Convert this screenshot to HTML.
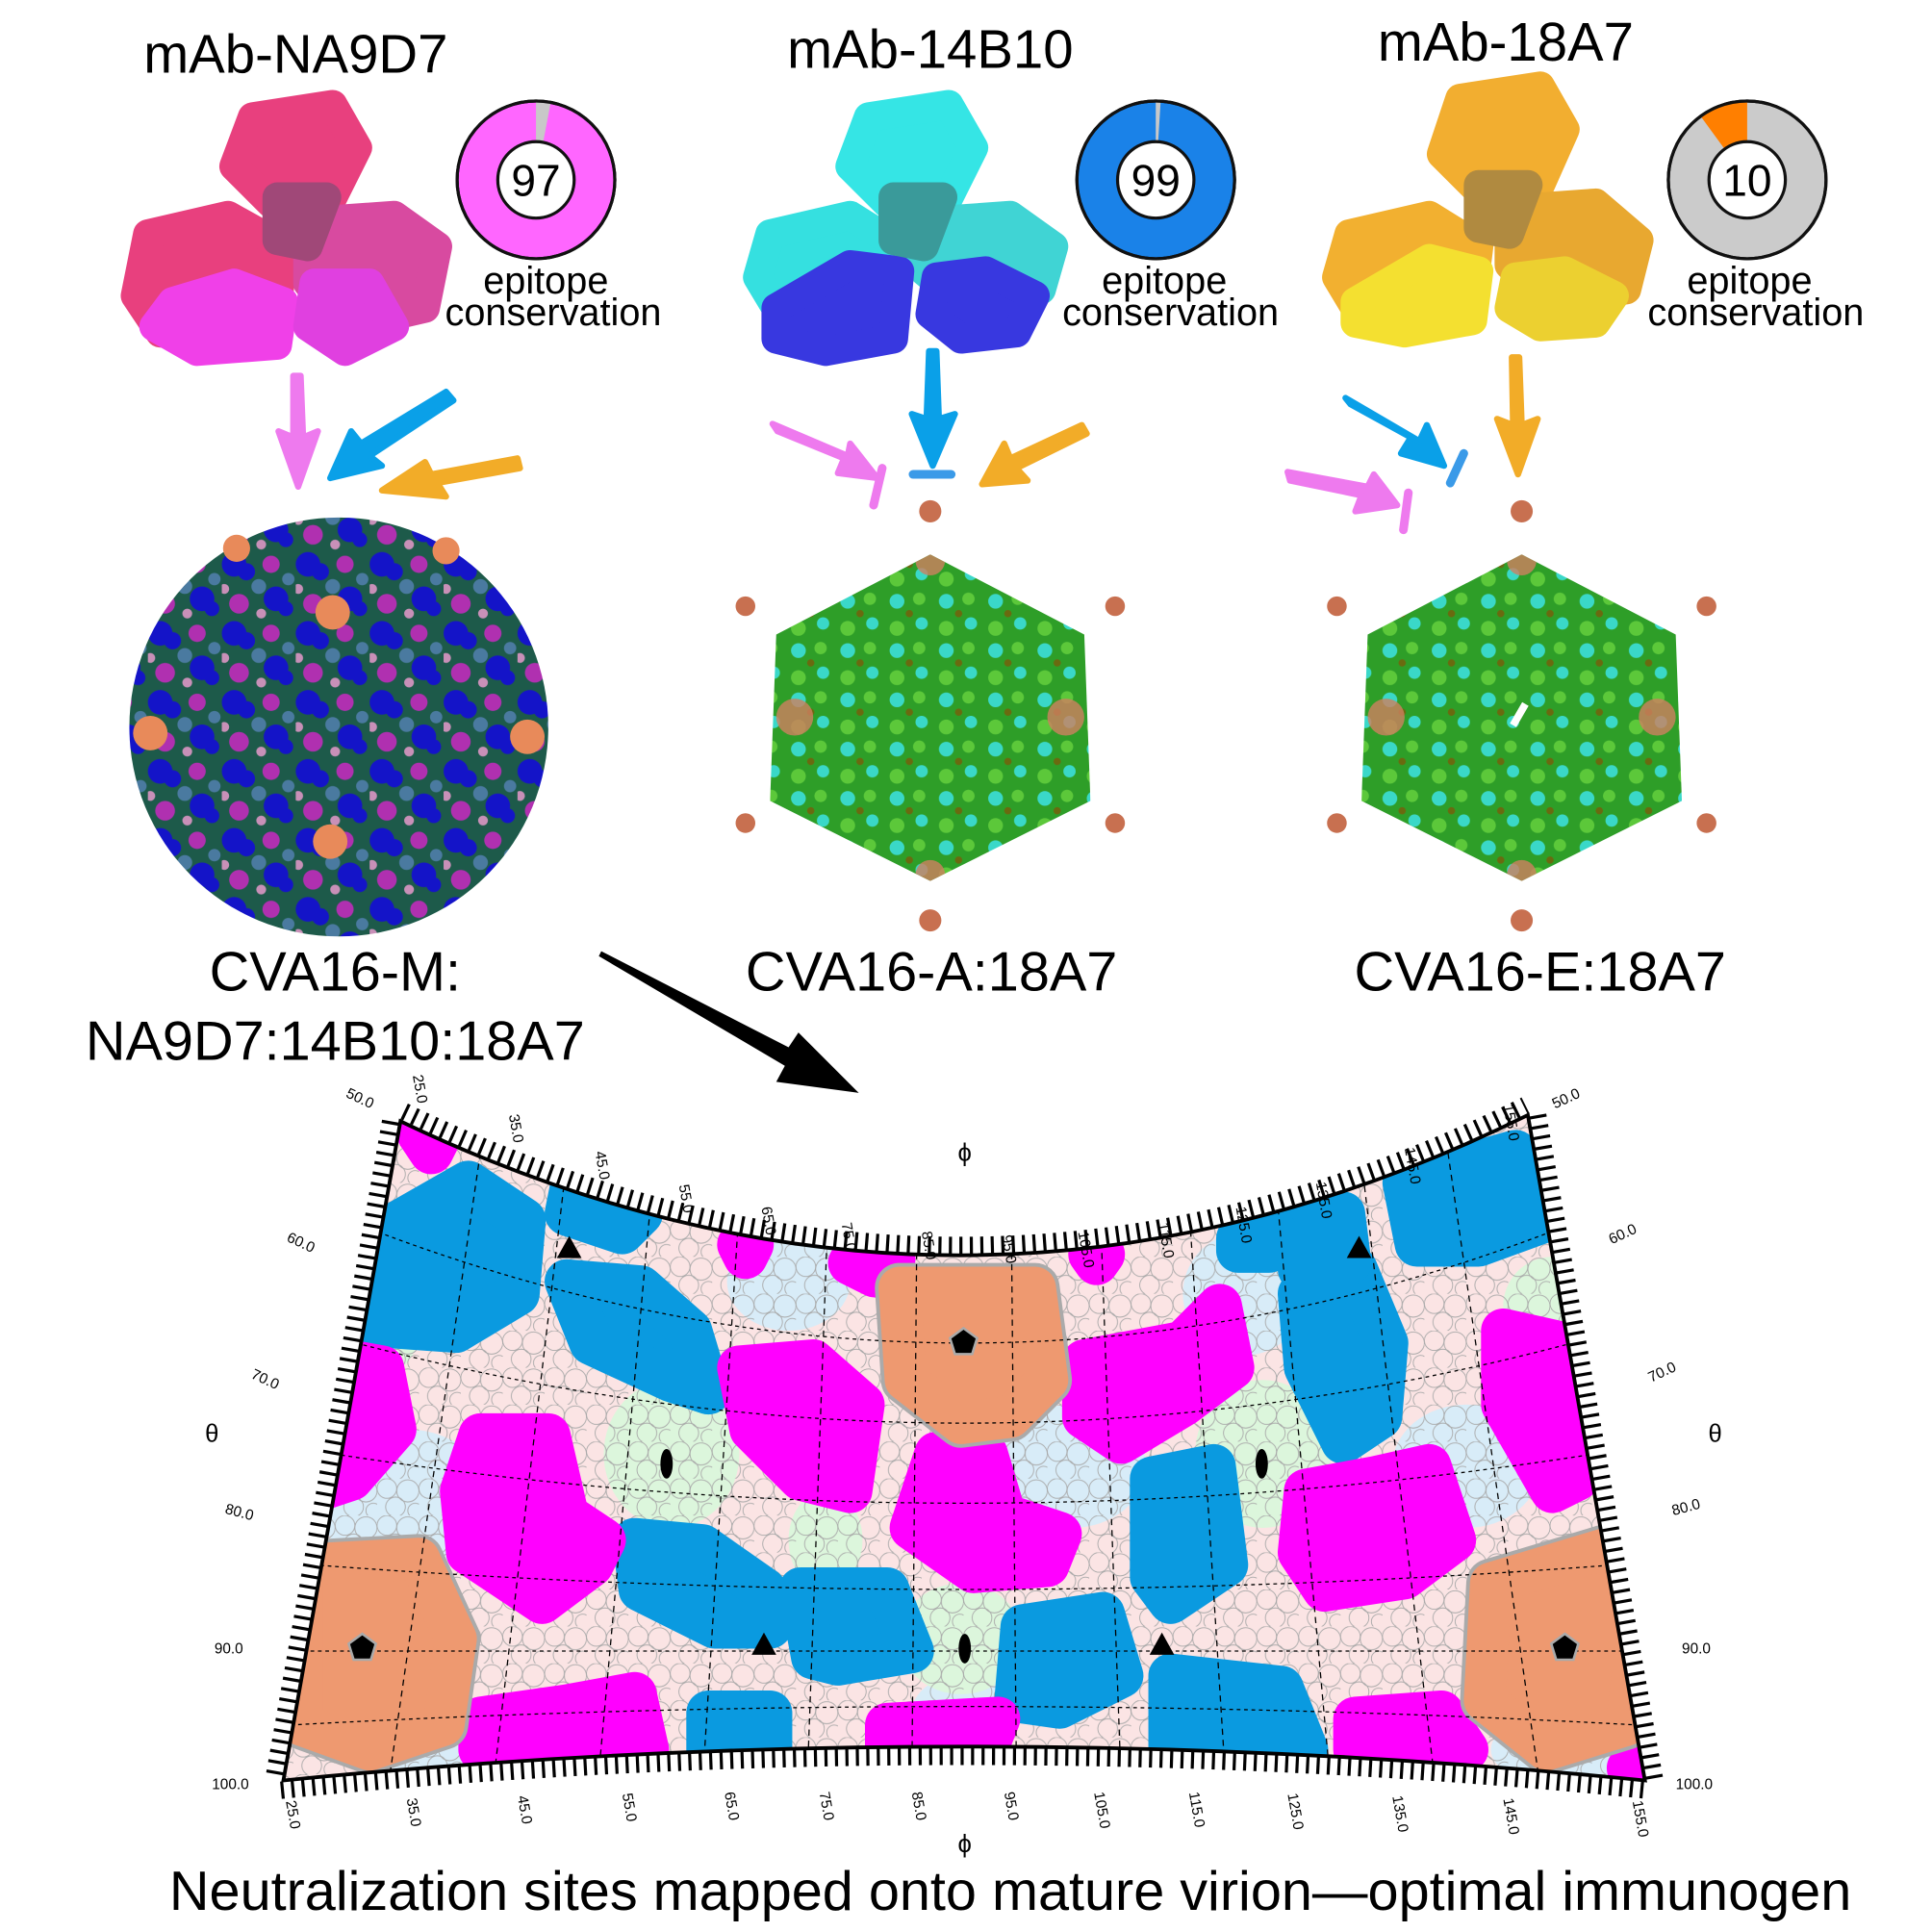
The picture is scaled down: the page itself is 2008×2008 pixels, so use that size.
<!DOCTYPE html>
<html><head><meta charset="utf-8"><style>
html,body{margin:0;padding:0;background:#fff}
svg{display:block}
text{font-family:"Liberation Sans",Arial,sans-serif}
.t{font-family:"Liberation Serif",serif;font-size:12px}
</style></head><body>
<svg width="2008" height="2008" viewBox="0 0 1568 1568" xmlns="http://www.w3.org/2000/svg">
<defs>
<clipPath id="mapclip"><path d="M325,910 Q785,1130 1240,905 L1335,1445 Q785,1390 230,1445 Z"/></clipPath>
<clipPath id="c2"><polygon points="755,450 880,515 885,650 755,715 625,650 630,515"/></clipPath>
<clipPath id="c3"><polygon points="1235,450 1360,515 1365,650 1235,715 1105,650 1110,515"/></clipPath>
<pattern id="cells" width="34" height="30" patternUnits="userSpaceOnUse">
<g fill="none" stroke="#a8a8a8" stroke-width="0.7">
<circle cx="8" cy="8" r="8"/><circle cx="25" cy="10" r="9"/><circle cx="15" cy="23" r="8"/><circle cx="31" cy="26" r="6"/>
</g></pattern>
<pattern id="mvir" width="60" height="56" patternUnits="userSpaceOnUse">
<rect width="60" height="56" fill="#1d5a4a"/>
<g fill="#1414c8"><circle cx="10" cy="10" r="10"/><circle cx="20" cy="16" r="7"/><circle cx="44" cy="38" r="10"/><circle cx="52" cy="46" r="6"/></g>
<g fill="#b030b0"><circle cx="40" cy="10" r="7"/><circle cx="14" cy="42" r="8"/></g>
<g fill="#4a7aa0"><circle cx="30" cy="28" r="6"/><circle cx="54" cy="22" r="5"/></g>
<g fill="#c890b8"><circle cx="2" cy="30" r="4"/><circle cx="32" cy="50" r="4"/></g>
</pattern>
<pattern id="gvir" width="40" height="40" patternUnits="userSpaceOnUse">
<rect width="40" height="40" fill="#2e9e28"/>
<g fill="#3ad8c8"><circle cx="8" cy="8" r="6"/><circle cx="28" cy="26" r="5"/></g>
<g fill="#5cc83a"><circle cx="26" cy="6" r="5"/><circle cx="8" cy="30" r="6"/></g>
<circle cx="18" cy="18" r="3" fill="#6a6a10"/>
</pattern>
</defs>
<rect width="1568" height="1568" fill="#fff"/>
<g font-size="44" text-anchor="middle">
<text x="240" y="59">mAb-NA9D7</text>
<text x="755" y="55">mAb-14B10</text>
<text x="1222" y="49">mAb-18A7</text>
</g>
<!-- antibodies -->
<g stroke-linejoin="round" stroke-width="24">
<path d="M205,95 L270,85 L290,120 L270,160 L220,165 L190,135 Z" fill="#e8407e" stroke="#e8407e"/>
<path d="M120,190 L185,175 L230,200 L225,250 L190,275 L130,270 L110,240 Z" fill="#e8407e" stroke="#e8407e"/>
<path d="M250,180 L320,175 L355,200 L345,250 L280,265 L250,230 Z" fill="#d84aa0" stroke="#d84aa0"/>
<path d="M140,245 L190,230 L230,245 L225,280 L160,285 L125,265 Z" fill="#f040e8" stroke="#f040e8"/>
<path d="M255,230 L300,230 L320,265 L280,285 L250,265 Z" fill="#e040e0" stroke="#e040e0"/>
<path d="M225,160 L265,160 L250,200 L225,195 Z" fill="#a04878" stroke="#a04878"/>

<path d="M705,95 L770,85 L790,120 L770,160 L720,165 L690,135 Z" fill="#35e5e5" stroke="#35e5e5"/>
<path d="M625,190 L690,175 L730,200 L725,240 L690,255 L630,250 L615,225 Z" fill="#35e0e0" stroke="#35e0e0"/>
<path d="M750,180 L820,175 L855,200 L845,235 L780,245 L750,220 Z" fill="#40d4d4" stroke="#40d4d4"/>
<path d="M630,250 L690,215 L730,220 L725,275 L670,285 L630,275 Z" fill="#3838e0" stroke="#3838e0"/>
<path d="M760,225 L800,220 L840,240 L825,270 L780,275 L755,255 Z" fill="#3838e0" stroke="#3838e0"/>
<path d="M725,160 L765,160 L750,200 L725,195 Z" fill="#3a9a9a" stroke="#3a9a9a"/>

<path d="M1185,80 L1250,70 L1270,105 L1250,150 L1200,155 L1170,125 Z" fill="#f2ae30" stroke="#f2ae30"/>
<path d="M1095,190 L1160,175 L1200,200 L1195,240 L1160,255 L1100,250 L1085,225 Z" fill="#f2b030" stroke="#f2b030"/>
<path d="M1225,170 L1295,165 L1330,195 L1320,235 L1255,245 L1225,215 Z" fill="#e8a830" stroke="#e8a830"/>
<path d="M1100,245 L1160,210 L1200,220 L1195,260 L1140,270 L1100,262 Z" fill="#f4e030" stroke="#f4e030"/>
<path d="M1230,225 L1270,220 L1310,240 L1295,262 L1250,265 L1225,250 Z" fill="#ecd030" stroke="#ecd030"/>
<path d="M1200,150 L1240,150 L1225,190 L1200,185 Z" fill="#b08a40" stroke="#b08a40"/>
</g>
<!-- donuts -->
<g stroke="#111" stroke-width="2.5">
<circle cx="435" cy="146" r="64" fill="#ff66ff"/>
<path d="M435,146 L435,82 A64,64 0 0 1 447,83 Z" fill="#c8c8c8" stroke="none"/>
<circle cx="435" cy="146" r="64" fill="none"/>
<circle cx="435" cy="146" r="31" fill="#fff"/>
<circle cx="938" cy="146" r="64" fill="#1a82e8"/>
<path d="M938,146 L938,82 A64,64 0 0 1 942,82 Z" fill="#c8c8c8" stroke="none"/>
<circle cx="938" cy="146" r="64" fill="none"/>
<circle cx="938" cy="146" r="31" fill="#fff"/>
<circle cx="1418" cy="146" r="64" fill="#cbcbcb"/>
<path d="M1418,146 L1380,94 A64,64 0 0 1 1418,82 Z" fill="#ff7f00" stroke="none"/>
<circle cx="1418" cy="146" r="64" fill="none"/>
<circle cx="1418" cy="146" r="31" fill="#fff"/>
</g>
<g font-size="36" text-anchor="middle">
<text x="435" y="159">97</text><text x="938" y="159">99</text><text x="1418" y="159">10</text>
</g>
<g font-size="31" text-anchor="middle">
<text x="443" y="238">epitope</text><text x="449" y="264">conservation</text>
<text x="945" y="238">epitope</text><text x="950" y="264">conservation</text>
<text x="1420" y="238">epitope</text><text x="1425" y="264">conservation</text>
</g>
<!-- arrows -->
<g stroke-width="5" stroke-linejoin="round">
<polygon points="238,305 244,305 246,355 258,350 242,395 226,350 238,355" fill="#ee7aee" stroke="#ee7aee"/>
<polygon points="362,318 368,325 300,370 310,378 268,388 285,350 293,360" fill="#0aa0e8" stroke="#0aa0e8"/>
<polygon points="420,372 422,380 355,392 362,403 310,398 345,375 350,385" fill="#f2ac28" stroke="#f2ac28"/>
<polygon points="627,344 631,350 685,372 680,384 712,388 690,360 688,370" fill="#ee7aee" stroke="#ee7aee"/>
<polygon points="754,285 760,285 762,340 775,336 757,378 740,336 752,340" fill="#0aa0e8" stroke="#0aa0e8"/>
<polygon points="878,345 882,352 825,380 834,390 797,393 815,360 820,372" fill="#f2ac28" stroke="#f2ac28"/>
<polygon points="1092,323 1096,328 1145,355 1137,368 1172,378 1158,345 1152,358" fill="#0aa0e8" stroke="#0aa0e8"/>
<polygon points="1227,290 1233,290 1235,345 1248,340 1232,385 1215,340 1228,345" fill="#f2ac28" stroke="#f2ac28"/>
<polygon points="1045,383 1047,390 1105,402 1100,415 1134,410 1115,385 1110,395" fill="#ee7aee" stroke="#ee7aee"/>
</g>
<g stroke-width="7" stroke-linecap="round">
<line x1="716" y1="380" x2="709" y2="410" stroke="#ee7aee"/>
<line x1="741" y1="385" x2="772" y2="385" stroke="#3a9ae8"/>
<line x1="1188" y1="368" x2="1177" y2="392" stroke="#3a9ae8"/>
<line x1="1143" y1="400" x2="1139" y2="430" stroke="#ee7aee"/>
</g>
<!-- virions -->
<circle cx="275" cy="590" r="170" fill="url(#mvir)"/>
<g fill="#e88a5a"><circle cx="270" cy="497" r="14"/><circle cx="428" cy="598" r="14"/><circle cx="122" cy="595" r="14"/><circle cx="268" cy="683" r="14"/><circle cx="192" cy="445" r="11"/><circle cx="362" cy="447" r="11"/></g>
<g clip-path="url(#c2)"><rect x="615" y="440" width="280" height="290" fill="url(#gvir)"/>
<g fill="#d08060" opacity="0.8"><circle cx="645" cy="582" r="15"/><circle cx="865" cy="582" r="15"/><circle cx="755" cy="455" r="12"/><circle cx="755" cy="710" r="12"/></g></g>
<g clip-path="url(#c3)"><rect x="1095" y="440" width="280" height="290" fill="url(#gvir)"/>
<g fill="#d08060" opacity="0.8"><circle cx="1125" cy="582" r="15"/><circle cx="1345" cy="582" r="15"/><circle cx="1235" cy="455" r="12"/><circle cx="1235" cy="710" r="12"/></g>
<rect x="1230" y="570" width="6" height="20" fill="#fff" transform="rotate(30 1233 580)"/></g>
<g fill="#c87050">
<circle cx="755" cy="415" r="9"/><circle cx="755" cy="747" r="9"/><circle cx="605" cy="492" r="8"/><circle cx="905" cy="492" r="8"/><circle cx="605" cy="668" r="8"/><circle cx="905" cy="668" r="8"/>
<circle cx="1235" cy="415" r="9"/><circle cx="1235" cy="747" r="9"/><circle cx="1085" cy="492" r="8"/><circle cx="1385" cy="492" r="8"/><circle cx="1085" cy="668" r="8"/><circle cx="1385" cy="668" r="8"/>
</g>
<g font-size="45" text-anchor="middle">
<text x="272" y="804">CVA16-M:</text>
<text x="272" y="860">NA9D7:14B10:18A7</text>
<text x="756" y="804">CVA16-A:18A7</text>
<text x="1250" y="804">CVA16-E:18A7</text>
</g>
<path d="M488,772 L640,850 L648,838 L697,887 L630,878 L637,865 L486,776 Z" fill="#000"/>
<!-- map -->
<g clip-path="url(#mapclip)">
<rect x="200" y="880" width="1180" height="600" fill="#fbe4e4"/>
<g fill="#d8ecf8"><ellipse cx="330" cy="1220" rx="70" ry="60"/><ellipse cx="640" cy="1040" rx="50" ry="40"/><ellipse cx="870" cy="1190" rx="60" ry="50"/><ellipse cx="1190" cy="1190" rx="60" ry="50"/><ellipse cx="1010" cy="1050" rx="50" ry="50"/><ellipse cx="1340" cy="1230" rx="40" ry="80"/><ellipse cx="330" cy="1420" rx="50" ry="30"/><ellipse cx="1270" cy="1420" rx="60" ry="30"/><ellipse cx="780" cy="1390" rx="40" ry="30"/></g>
<g fill="#dcf6dc"><ellipse cx="545" cy="1180" rx="55" ry="60"/><ellipse cx="1025" cy="1180" rx="55" ry="60"/><ellipse cx="780" cy="1330" rx="50" ry="45"/><ellipse cx="300" cy="1080" rx="40" ry="40"/><ellipse cx="1260" cy="1060" rx="40" ry="40"/><ellipse cx="670" cy="1250" rx="30" ry="40"/></g>
<rect x="200" y="880" width="1180" height="600" fill="url(#cells)"/>
<g stroke-linejoin="round" stroke-width="36" fill="#0a9ae0" stroke="#0a9ae0">
<path d="M310,1000 L380,960 L425,990 L420,1050 L370,1080 L300,1075 Z"/>
<path d="M460,1040 L520,1045 L560,1080 L575,1130 L545,1120 L480,1090 Z"/>
<path d="M465,960 L520,985 L505,1000 L460,985 Z"/>
<path d="M515,1250 L570,1255 L620,1290 L625,1320 L580,1320 L520,1290 Z"/>
<path d="M650,1290 L720,1290 L740,1340 L680,1350 L660,1345 Z"/>
<path d="M575,1390 L625,1390 L625,1420 L575,1420 Z"/>
<path d="M830,1320 L895,1310 L910,1360 L860,1385 L825,1380 Z"/>
<path d="M935,1200 L985,1190 L995,1270 L950,1300 L935,1280 Z"/>
<path d="M950,1360 L1040,1370 L1060,1420 L950,1420 Z"/>
<path d="M1055,1050 L1100,1030 L1125,1090 L1120,1150 L1090,1170 L1060,1110 Z"/>
<path d="M1140,960 L1230,935 L1255,990 L1200,1010 L1150,1010 Z"/>
<path d="M1050,995 L1090,985 L1095,1025 L1055,1030 Z"/>
<path d="M1005,1005 L1035,1000 L1030,1015 L1005,1015 Z"/>
</g>
<g stroke-linejoin="round" stroke-width="36" fill="#ff00ff" stroke="#ff00ff">
<path d="M255,1100 L310,1110 L320,1160 L285,1200 L255,1210 L245,1150 Z"/>
<path d="M390,1165 L445,1165 L460,1230 L490,1250 L480,1270 L440,1300 L380,1260 L375,1210 Z"/>
<path d="M600,1110 L660,1105 L700,1140 L690,1210 L650,1200 L610,1160 Z"/>
<path d="M760,1180 L800,1180 L815,1230 L860,1245 L850,1270 L790,1275 L740,1240 Z"/>
<path d="M880,1105 L960,1090 L990,1060 L1000,1110 L960,1140 L910,1170 L880,1150 Z"/>
<path d="M1060,1210 L1115,1200 L1160,1190 L1180,1250 L1140,1280 L1075,1290 L1055,1260 Z"/>
<path d="M1220,1080 L1265,1090 L1290,1140 L1280,1200 L1260,1210 L1220,1140 Z"/>
<path d="M390,1395 L460,1385 L515,1375 L525,1420 L390,1420 Z"/>
<path d="M720,1400 L810,1395 L800,1420 L720,1420 Z"/>
<path d="M1100,1395 L1170,1390 L1190,1420 L1100,1420 Z"/>
<path d="M340,920 L355,925 L350,935 Z"/>
<path d="M600,1010 L610,1010 L605,1020 Z"/>
<path d="M690,1025 L725,1022 L710,1035 Z"/>
<path d="M885,1018 L895,1018 L890,1025 Z"/>
<path d="M1322,1435 L1330,1432 L1330,1445 Z"/>
</g>
<g stroke-linejoin="round" stroke-width="40" fill="#ee9970" stroke="#aaa">
<path d="M730,1045 L840,1045 L850,1120 L820,1150 L780,1155 L735,1120 Z"/>
<path d="M245,1270 L340,1265 L370,1330 L360,1400 L300,1420 L245,1400 Z"/>
<path d="M1210,1285 L1310,1255 L1330,1320 L1320,1400 L1255,1420 L1205,1380 Z"/>
</g>
<g stroke-linejoin="round" stroke-width="34" fill="#ee9970" stroke="#ee9970">
<path d="M730,1045 L840,1045 L850,1120 L820,1150 L780,1155 L735,1120 Z"/>
<path d="M245,1270 L340,1265 L370,1330 L360,1400 L300,1420 L245,1400 Z"/>
<path d="M1210,1285 L1310,1255 L1330,1320 L1320,1400 L1255,1420 L1205,1380 Z"/>
</g>
<g fill="none" stroke="#000" stroke-width="1" stroke-dasharray="3 3">
<path d="M307,1000 Q785,1180 1258,1000"/>
<path d="M289,1090 Q785,1220 1276,1090"/>
<path d="M271,1180 Q785,1260 1294,1180"/>
<path d="M254,1270 Q785,1310 1311,1270"/>
<path d="M240,1340 Q785,1340 1323,1340"/>
<path d="M236,1400 Q785,1370 1329,1400"/>
</g>
<g stroke="#000" stroke-width="1" stroke-dasharray="5 4">
<line x1="395" y1="900" x2="315" y2="1450"/><line x1="465" y1="900" x2="400" y2="1450"/><line x1="535" y1="900" x2="485" y2="1450"/><line x1="605" y1="900" x2="570" y2="1450"/><line x1="675" y1="900" x2="655" y2="1450"/><line x1="745" y1="900" x2="740" y2="1450"/><line x1="820" y1="900" x2="825" y2="1450"/><line x1="890" y1="900" x2="910" y2="1450"/><line x1="960" y1="900" x2="995" y2="1450"/><line x1="1030" y1="900" x2="1080" y2="1450"/><line x1="1100" y1="900" x2="1165" y2="1450"/><line x1="1170" y1="900" x2="1250" y2="1450"/>
</g>
<g fill="#000" stroke="#aaa" stroke-width="2">
<polygon points="782,1078 793,1086 789,1099 775,1099 771,1086"/>
<polygon points="294,1326 305,1334 301,1347 287,1347 283,1334"/>
<polygon points="1270,1326 1281,1334 1277,1347 1263,1347 1259,1334"/>
</g>
<g fill="#000">
<polygon points="462,1003 452,1021 472,1021"/><polygon points="1103,1003 1093,1021 1113,1021"/><polygon points="620,1325 610,1343 630,1343"/><polygon points="943,1325 933,1343 953,1343"/>
<ellipse cx="541" cy="1188" rx="5" ry="12"/><ellipse cx="1024" cy="1188" rx="5" ry="12"/><ellipse cx="783" cy="1338" rx="5" ry="12"/>
</g>
</g>
<path d="M325,910 Q785,1130 1240,905 L1335,1445 Q785,1390 230,1445 Z" fill="none" stroke="#000" stroke-width="3"/>
<g fill="none" stroke="#000" stroke-width="14" stroke-dasharray="2.5 6">
<path d="M328,902 Q785,1122 1238,897"/>
<path d="M228,1453 Q785,1398 1337,1453"/>
<path d="M317,910 L222,1445"/>
<path d="M1248,905 L1343,1445"/>
</g>
<g class="t">
<text transform="translate(335,873) rotate(80)">25.0</text>
<text transform="translate(413,905) rotate(80)">35.0</text>
<text transform="translate(483,935) rotate(80)">45.0</text>
<text transform="translate(551,962) rotate(80)">55.0</text>
<text transform="translate(618,980) rotate(80)">65.0</text>
<text transform="translate(683,993) rotate(80)">75.0</text>
<text transform="translate(748,1000) rotate(80)">85.0</text>
<text transform="translate(813,1003) rotate(80)">95.0</text>
<text transform="translate(875,1000) rotate(80)">105.0</text>
<text transform="translate(940,993) rotate(80)">115.0</text>
<text transform="translate(1003,980) rotate(80)">125.0</text>
<text transform="translate(1068,960) rotate(80)">135.0</text>
<text transform="translate(1140,932) rotate(80)">145.0</text>
<text transform="translate(1220,897) rotate(80)">155.0</text>
<text transform="translate(232,1462) rotate(80)">25.0</text>
<text transform="translate(330,1460) rotate(80)">35.0</text>
<text transform="translate(420,1458) rotate(80)">45.0</text>
<text transform="translate(505,1456) rotate(80)">55.0</text>
<text transform="translate(588,1455) rotate(80)">65.0</text>
<text transform="translate(665,1455) rotate(80)">75.0</text>
<text transform="translate(740,1455) rotate(80)">85.0</text>
<text transform="translate(815,1455) rotate(80)">95.0</text>
<text transform="translate(888,1455) rotate(80)">105.0</text>
<text transform="translate(965,1455) rotate(80)">115.0</text>
<text transform="translate(1045,1456) rotate(80)">125.0</text>
<text transform="translate(1130,1458) rotate(80)">135.0</text>
<text transform="translate(1220,1460) rotate(80)">145.0</text>
<text transform="translate(1325,1462) rotate(80)">155.0</text>
<text transform="translate(280,890) rotate(25)">50.0</text>
<text transform="translate(232,1007) rotate(25)">60.0</text>
<text transform="translate(203,1118) rotate(25)">70.0</text>
<text transform="translate(182,1228) rotate(15)">80.0</text>
<text x="174" y="1342">90.0</text>
<text x="172" y="1452">100.0</text>
<text transform="translate(1262,900) rotate(-25)">50.0</text>
<text transform="translate(1308,1010) rotate(-25)">60.0</text>
<text transform="translate(1340,1122) rotate(-25)">70.0</text>
<text transform="translate(1358,1230) rotate(-15)">80.0</text>
<text x="1365" y="1342">90.0</text>
<text x="1360" y="1452">100.0</text>
</g>
<g font-family="Liberation Serif" font-size="20" text-anchor="middle">
<text x="783" y="942">ϕ</text><text x="783" y="1503">ϕ</text><text x="172" y="1170">θ</text><text x="1392" y="1170">θ</text>
</g>
<text x="820" y="1550" font-size="45" text-anchor="middle">Neutralization sites mapped onto mature virion—optimal immunogen</text>
</svg>
</body></html>
